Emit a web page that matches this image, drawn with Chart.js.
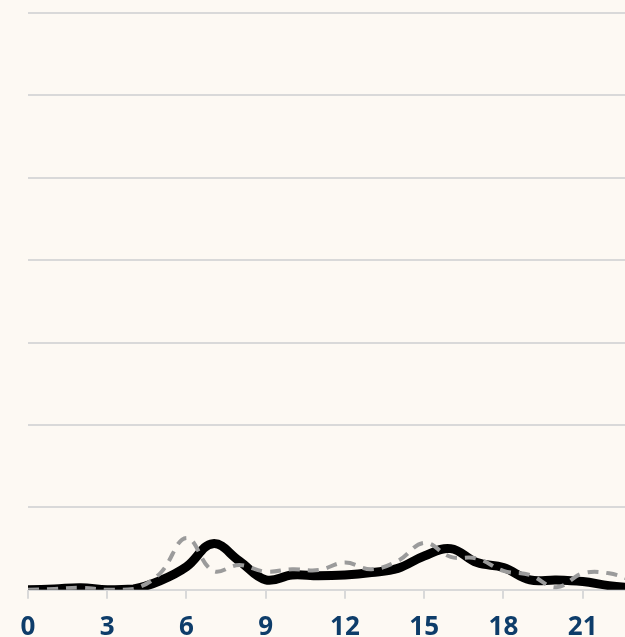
<!DOCTYPE html>
<html lang="en">
<head>
  <meta charset="UTF-8">
  <title>Hourly profile</title>
  <style>
    html, body {
      margin: 0;
      padding: 0;
      background-color: #fdf9f3;
      overflow: hidden;
    }

    canvas {
      display: block;
    }
  </style>
</head>
<body>
  <canvas id="chart" width="625" height="656"></canvas>

  <script src="https://cdn.jsdelivr.net/npm/chart.js"></script>
  <script>
    // Hour of day
    const hours = [0, 1, 2, 3, 4, 5, 6, 7, 8, 9, 10, 11, 12, 13, 14, 15, 16, 17, 18, 19, 20, 21, 22, 23];

    // Solid black series
    const solidValues = [0, 0.1, 0.25, 0, 0.1, 1.1, 2.8, 5.6, 3.5, 1.2, 1.8, 1.7, 1.8, 2.1, 2.6, 4.1, 5.0, 3.3, 2.7, 1.2, 1.2, 1.0, 0.5, 0.2];

    // Dashed grey series
    const dashedValues = [0, 0.1, 0.25, 0, 0.1, 2.0, 6.3, 2.3, 3.0, 2.2, 2.5, 2.4, 3.3, 2.5, 3.5, 5.7, 4.0, 3.8, 2.3, 1.8, 0.3, 2.0, 2.0, 1.0];

    const xTicks = [0, 3, 6, 9, 12, 15, 18, 21];

    const toPoints = (vals) => vals.map((v, i) => ({ x: hours[i], y: v }));

    const ctx = document.getElementById('chart').getContext('2d');
    const chart = new Chart(ctx, {
      type: 'line',
      data: {
        datasets: [
          {
            label: 'Dashed',
            data: toPoints(dashedValues),
            borderColor: '#9b9b9b',
            borderWidth: 4,
            borderDash: [11, 8],
            pointRadius: 0,
            tension: 0.4,
            fill: false
          },
          {
            label: 'Solid',
            data: toPoints(solidValues),
            borderColor: '#000000',
            borderWidth: 9,
            pointRadius: 0,
            tension: 0.4,
            fill: false
          }
        ]
      },
      options: {
        responsive: false,
        animation: false,
        layout: {
          padding: { left: 28, top: 13, right: 0, bottom: 0 }
        },
        plugins: {
          legend: { display: false },
          tooltip: { enabled: false }
        },
        scales: {
          x: {
            type: 'linear',
            min: 0,
            max: 22.6,
            border: { display: false },
            grid: {
              drawOnChartArea: false,
              drawTicks: true,
              tickLength: 9,
              color: '#d9d9d9',
              lineWidth: 2
            },
            afterBuildTicks: (axis) => {
              axis.ticks = xTicks.map(v => ({ value: v }));
            },
            ticks: {
              includeBounds: false,
              autoSkip: false,
              maxRotation: 0,
              padding: 13,
              color: '#0e3d6a',
              font: { family: 'Open Sans', size: 26, weight: 'bold' }
            }
          },
          y: {
            min: 0,
            max: 70,
            border: { display: false },
            grid: {
              color: '#d9d9d9',
              lineWidth: 2,
              drawTicks: false
            },
            ticks: {
              display: false,
              stepSize: 10
            }
          }
        }
      }
    });
  </script>
</body>
</html>
